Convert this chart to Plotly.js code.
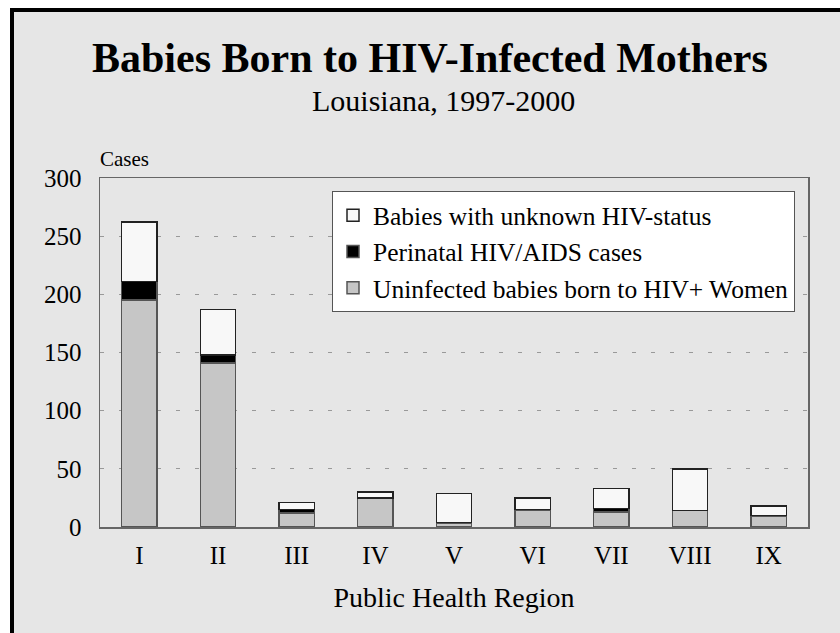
<!DOCTYPE html>
<html>
<head>
<meta charset="utf-8">
<script src="https://cdn.plot.ly/plotly-3.0.1.min.js"></script>
<style>html,body{margin:0;padding:0;background:#fff;}#chart{width:840px;height:633px;}</style>
</head>
<body>
<div id="chart"></div>
<script>
const regions = ["I", "II", "III", "IV", "V", "VI", "VII", "VIII", "IX"];
const uninfected = [195, 141, 12, 25, 3, 14, 13, 14, 9];
const perinatal = [16, 7, 3, 0, 1, 1, 3, 0, 1];
const unknownStatus = [51, 39, 6, 5, 25, 10, 17, 36, 8];
const yTicks = [0, 50, 100, 150, 200, 250, 300];

const L = 100, R = 808, T = 177.7, B = 527.3;
const W = 840, H = 633;
const px = x => (x - L) / (R - L);
const py = y => (B - y) / (B - T);

const barLine = {color: '#555555', width: 1.5};
const traces = [
  {type: 'bar', name: 'Uninfected babies born to HIV+ Women', x: regions, y: uninfected,
   marker: {color: '#c6c6c6', line: barLine}},
  {type: 'bar', name: 'Perinatal HIV/AIDS cases', x: regions, y: perinatal,
   marker: {color: '#000000', line: barLine}},
  {type: 'bar', name: 'Babies with unknown HIV-status', x: regions, y: unknownStatus,
   marker: {color: '#f8f8f8', line: {color: '#222222', width: 1.5}}}
];

const font = 'Liberation Serif, Times New Roman, serif';
const layout = {
  width: W, height: H,
  margin: {l: L, r: W - R, t: T, b: H - B, pad: 0},
  paper_bgcolor: '#ffffff',
  plot_bgcolor: '#ffffff',
  barmode: 'stack',
  bargap: 0.55,
  font: {family: font, size: 24, color: '#000'},
  showlegend: true,
  legend: {
    x: px(332), y: py(191), xanchor: 'left', yanchor: 'top',
    bgcolor: '#ffffff', bordercolor: '#555555', borderwidth: 1,
    font: {family: font, size: 25.5, color: '#000'},
    traceorder: 'reversed', itemwidth: 30, tracegroupgap: 0
  },
  xaxis: {
    showline: true, linecolor: '#666666', linewidth: 1.5, mirror: true,
    ticks: '', ticklabelstandoff: 5, tickfont: {family: font, size: 25},
    title: {text: 'Public Health Region', font: {family: font, size: 28}, standoff: 20},
    showgrid: false
  },
  yaxis: {
    range: [0, 300], tickvals: yTicks, ticktext: yTicks.map(String),
    showline: true, linecolor: '#666666', linewidth: 1.5, mirror: true,
    ticks: '', ticklabelstandoff: 12, tickfont: {family: font, size: 25},
    showgrid: true, gridcolor: '#999999', gridwidth: 1, griddash: '4px,15px',
    zeroline: false
  },
  shapes: [
    {type: 'rect', xref: 'paper', yref: 'paper', layer: 'below',
     x0: px(12), x1: px(860), y0: py(660), y1: py(9.5),
     fillcolor: '#e6e6e6', line: {color: '#000000', width: 4}}
  ],
  annotations: [
    {xref: 'paper', yref: 'paper', x: px(430), y: py(57), xanchor: 'center', yanchor: 'middle',
     text: '<b>Babies Born to HIV-Infected Mothers</b>', showarrow: false,
     font: {family: font, size: 42, color: '#000'}},
    {xref: 'paper', yref: 'paper', x: px(443), y: py(100), xanchor: 'center', yanchor: 'middle',
     text: 'Louisiana, 1997-2000', showarrow: false,
     font: {family: font, size: 30, color: '#000'}},
    {xref: 'paper', yref: 'paper', x: px(98), y: py(159), xanchor: 'left', yanchor: 'middle',
     text: 'Cases', showarrow: false,
     font: {family: font, size: 21, color: '#000'}}
  ]
};

Plotly.newPlot('chart', traces, layout, {displayModeBar: false, staticPlot: true});
</script>
</body>
</html>
